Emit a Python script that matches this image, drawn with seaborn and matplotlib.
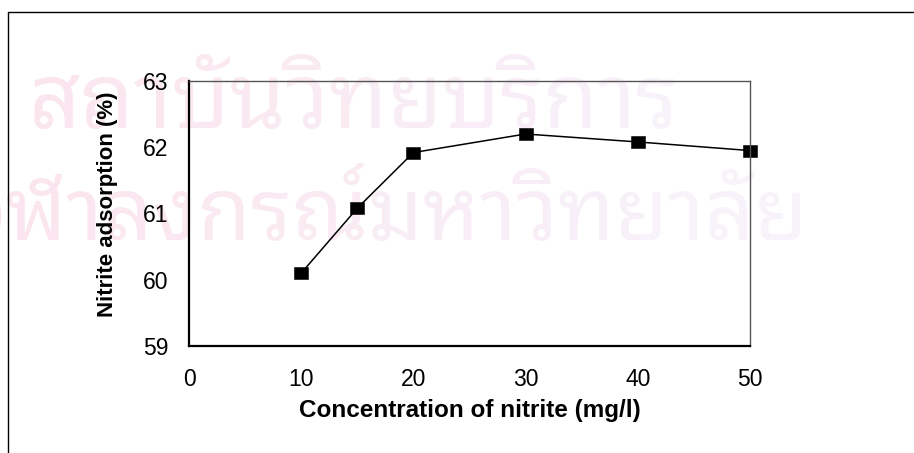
import os
import numpy as np
import pandas as pd
import seaborn as sns
import matplotlib
matplotlib.use("Agg")
import matplotlib.pyplot as plt
from matplotlib import font_manager
from matplotlib.lines import Line2D
from matplotlib.transforms import Bbox
from matplotlib.colors import to_rgb

# Measured adsorption at each nitrite concentration
concentration = [10, 15, 20, 30, 40, 50]
adsorption = [60.1, 61.08, 61.92, 62.2, 62.08, 61.95]

x_ticks = [0, 10, 20, 30, 40, 50]
y_ticks = [59, 60, 61, 62, 63]

x_label = "Concentration of nitrite (mg/l)"
y_label = "Nitrite adsorption (%)"

watermark_lines = ["สถาบันวิทยบริการ", "จุฬาลงกรณ์มหาวิทยาลัย"]

W, H = 914, 453

sns.set_theme(style="white")
plt.rcParams["font.family"] = ["Liberation Sans", "DejaVu Sans"]
plt.rcParams["text.color"] = "black"
plt.rcParams["axes.labelcolor"] = "black"
plt.rcParams["xtick.color"] = "black"
plt.rcParams["ytick.color"] = "black"


def thai_font():
    """Pick a scalable looped Thai face for the background lettering."""
    paths = font_manager.findSystemFonts()
    prefs = ["NotoSansThaiLooped-Regular", "NotoSansThaiLooped",
             "Sarabun-Regular", "Loma.otf", "NotoSansThai-Regular"]
    for key in prefs:
        for p in sorted(paths):
            base = os.path.basename(p)
            if key in base and "Bold" not in base and "Italic" not in base:
                try:
                    f = matplotlib.ft2font.FT2Font(p)
                    if ord("ก") in f.get_charmap():
                        return font_manager.FontProperties(fname=p)
                except Exception:
                    pass
    return None


def px(x, y):
    """Pixel position (from top-left) to figure fraction."""
    return x / W, 1 - y / H


df = pd.DataFrame({"conc": concentration, "ads": adsorption})

fig = plt.figure(figsize=(W / 100, H / 100), dpi=100)
fig.patch.set_facecolor("white")
renderer = fig.canvas.get_renderer()


def text_width(s, prop, size):
    probe = fig.text(0, 0, s, fontproperties=prop, fontsize=size)
    w = probe.get_window_extent(renderer).width
    probe.remove()
    return w


# Faint background lettering, shading from pink on the left to lavender on the right.
# Each row: text, characters that run past the left edge, left x of the visible part,
# baseline y, width of the visible part (all in pixels).
tf = thai_font()
pink, lavender = np.array(to_rgb("#fbe5ee")), np.array(to_rgb("#f8f2fa"))
rows = [(watermark_lines[0], 0, 28, 128, 650),
        (watermark_lines[1], 2, 6, 240, 801)]
if tf is not None:
    for text, hidden, x_vis, base, width in rows:
        visible = text[hidden:]
        size = 60 * width / text_width(visible, tf, 60)
        offset = 0.0
        if hidden:
            offset = text_width(text, tf, size) - text_width(visible, tf, size)
        x0 = x_vis - offset
        bands = 10
        for i in range(bands):
            t = min(1.0, 1.3 * i / (bands - 1))
            col = pink * (1 - t) + lavender * t
            xa = i * W / bands
            xb = (i + 1) * W / bands
            txt = fig.text(*px(x0, base), text, fontproperties=tf, fontsize=size,
                           color=col, va="baseline", ha="left", zorder=-5)
            txt.set_clip_box(Bbox([[xa, 0], [xb, H]]))

# Outer frame (top and left edges)
fig.add_artist(Line2D([px(8, 0)[0], 1.0], [px(0, 12)[1]] * 2, color="black",
                      lw=1.0, transform=fig.transFigure, zorder=-1))
fig.add_artist(Line2D([px(8, 0)[0]] * 2, [0.0, px(0, 12)[1]], color="black",
                      lw=1.0, transform=fig.transFigure, zorder=-1))

ax = fig.add_axes([189 / W, 107 / H, 561 / W, 265 / H])
ax.patch.set_alpha(0)
ax.set_zorder(2)

rect_marker = [(-0.62, -0.5), (0.62, -0.5), (0.62, 0.5), (-0.62, 0.5), (-0.62, -0.5)]
sns.lineplot(data=df, x="conc", y="ads", ax=ax, color="black", lw=1.1,
             marker=rect_marker, markersize=10.6, markeredgewidth=0.4,
             markeredgecolor="black", markerfacecolor="black")

ax.set_xlim(0, 50)
ax.set_ylim(59, 63)
ax.set_xticks(x_ticks)
ax.set_yticks(y_ticks)
ax.tick_params(axis="both", labelsize=16.5, width=1, direction="out")
ax.tick_params(axis="y", length=6, pad=9)
ax.tick_params(axis="x", length=5, pad=11)

for side in ["left", "bottom"]:
    ax.spines[side].set_color("black")
    ax.spines[side].set_linewidth(1.6)
for side in ["top", "right"]:
    ax.spines[side].set_visible(True)
    ax.spines[side].set_color("#555555")
    ax.spines[side].set_linewidth(1.0)

ax.set_xlabel(x_label, fontsize=17.5, fontweight="bold", va="center")
ax.set_ylabel(y_label, fontsize=16, fontweight="bold", va="center")
ax.xaxis.set_label_coords(281 / 561, -64 / 265)
ax.yaxis.set_label_coords(-81 / 561, 142 / 265)

for line in ax.lines:
    line.set_clip_on(False)

fig.savefig("out.png", dpi=100)
